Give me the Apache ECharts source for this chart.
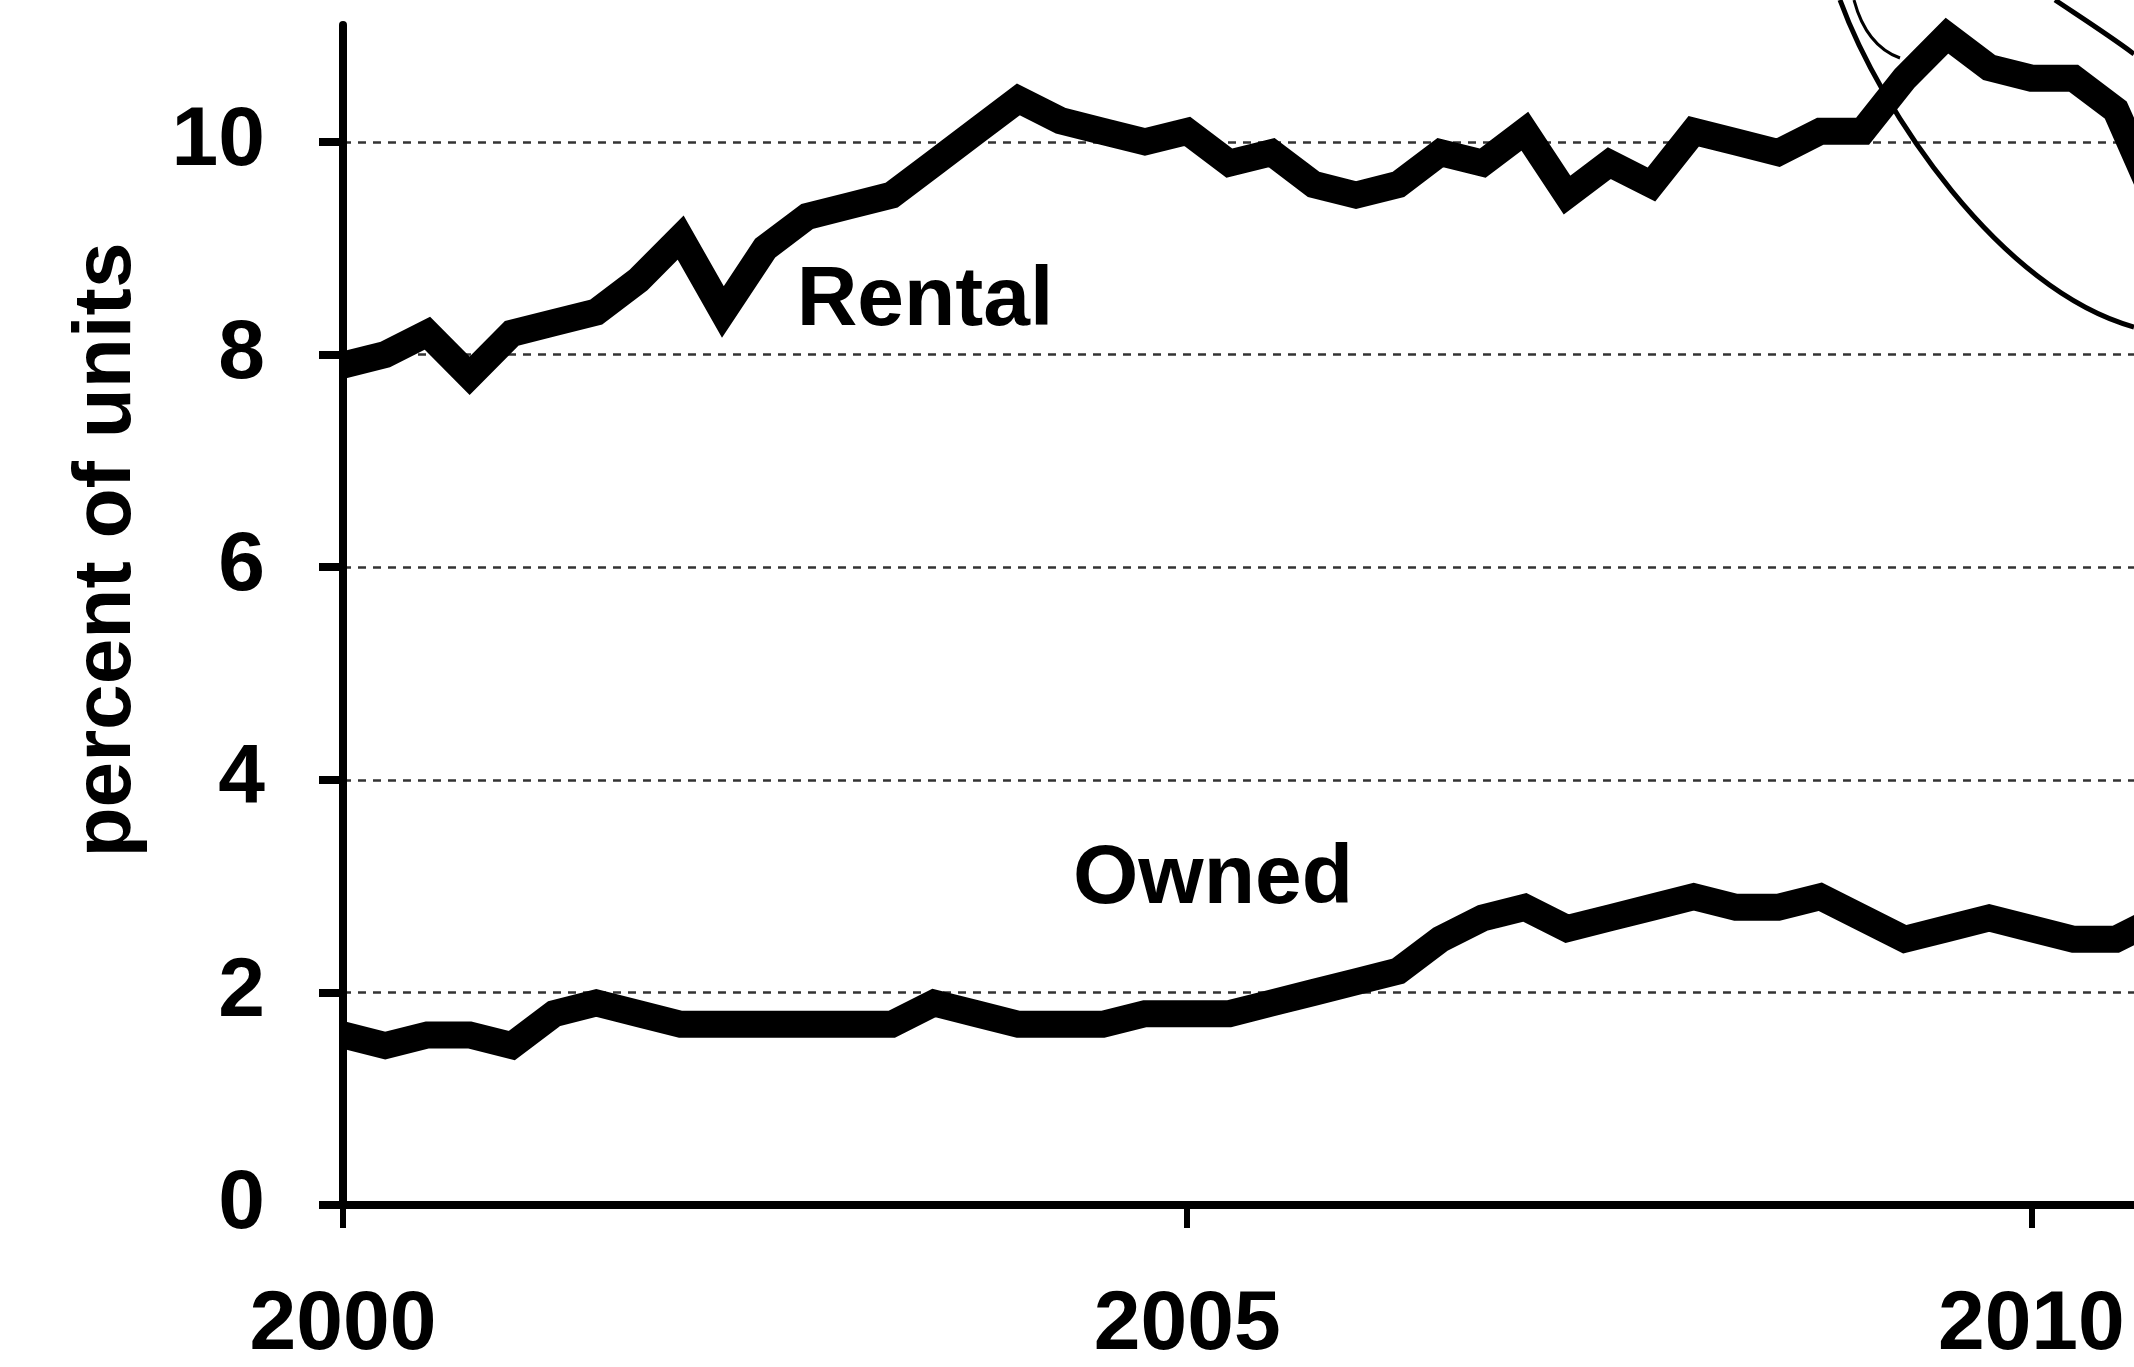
<!DOCTYPE html>
<html>
<head>
<meta charset="utf-8">
<title>Vacancy rates</title>
<script src="https://cdn.jsdelivr.net/npm/echarts@6/dist/echarts.min.js"></script>
<style>
  html, body { margin: 0; padding: 0; background: #fff; }
  #chart { width: 2134px; height: 1367px; }
</style>
</head>
<body>
<div id="chart"></div>
<script>
// quarterly vacancy rates, 2000 Q1 .. 2010 Q4 (last point is past the right edge)
const years = [2000, 2001, 2002, 2003, 2004, 2005, 2006, 2007, 2008, 2009, 2010];
const quarterNames = ['Q1', 'Q2', 'Q3', 'Q4'];

const rental = [
  7.9, 8.0, 8.2, 7.8,
  8.2, 8.3, 8.4, 8.7,
  9.1, 8.4, 9.0, 9.3,
  9.4, 9.5, 9.8, 10.1,
  10.4, 10.2, 10.1, 10.0,
  10.1, 9.8, 9.9, 9.6,
  9.5, 9.6, 9.9, 9.8,
  10.1, 9.5, 9.8, 9.6,
  10.1, 10.0, 9.9, 10.1,
  10.1, 10.6, 11.0, 10.7,
  10.6, 10.6, 10.3, 9.4
];

const owned = [
  1.6, 1.5, 1.6, 1.6,
  1.5, 1.8, 1.9, 1.8,
  1.7, 1.7, 1.7, 1.7,
  1.7, 1.7, 1.9, 1.8,
  1.7, 1.7, 1.7, 1.8,
  1.8, 1.8, 1.9, 2.0,
  2.1, 2.2, 2.5, 2.7,
  2.8, 2.6, 2.7, 2.8,
  2.9, 2.8, 2.8, 2.9,
  2.7, 2.5, 2.6, 2.7,
  2.6, 2.5, 2.5, 2.7
];

const yTicks = [0, 2, 4, 6, 8, 10];
const xLabelYears = ['2000', '2005', '2010'];

const quarters = [];
years.forEach(y => quarterNames.forEach(q => quarters.push(y + ' ' + q)));

const FONT = '"Liberation Sans", Arial, Helvetica, sans-serif';
const isLabelled = (idx, val) => xLabelYears.includes(String(val).slice(0, 4)) && String(val).endsWith('Q1');

const chart = echarts.init(document.getElementById('chart'), null, { renderer: 'canvas' });

chart.setOption({
  animation: false,
  backgroundColor: '#ffffff',
  // plot runs past the right edge, the picture is cropped there
  grid: { left: 343, top: 25, width: 1815, height: 1180, outerBoundsMode: 'none', containLabel: false },
  xAxis: {
    type: 'category',
    data: quarters,
    boundaryGap: false,
    axisLine: { show: true, lineStyle: { color: '#000', width: 8 } },
    axisTick: { show: true, length: 23, interval: isLabelled, lineStyle: { color: '#000', width: 6 } },
    axisLabel: {
      interval: isLabelled,
      margin: 79,
      formatter: v => v.slice(0, 4),
      color: '#000',
      fontFamily: FONT,
      fontWeight: 'bold',
      fontSize: 84
    },
    splitLine: { show: false }
  },
  yAxis: {
    type: 'value',
    min: 0,
    max: 11.1,
    interval: 2,
    name: 'percent of units',
    nameLocation: 'middle',
    nameGap: 195,
    nameRotate: 90,
    nameTextStyle: {
      color: '#000',
      fontFamily: FONT,
      fontWeight: 'bold',
      fontSize: 82,
      padding: [0, 0, 0, 130]
    },
    axisLine: { show: true, lineStyle: { color: '#000', width: 8 } },
    axisTick: { show: true, length: 24, customValues: yTicks, lineStyle: { color: '#000', width: 8 } },
    axisLabel: {
      customValues: yTicks,
      margin: 78,
      color: '#000',
      fontFamily: FONT,
      fontWeight: 'bold',
      fontSize: 84
    },
    splitLine: {
      show: true,
      showMinLine: false,
      lineStyle: { color: '#333', width: 2.5, type: [8, 7] }
    }
  },
  series: [
    {
      name: 'Rental',
      type: 'line',
      data: rental,
      symbol: 'none',
      clip: false,
      lineStyle: { color: '#000', width: 27, join: 'miter', miterLimit: 4, cap: 'butt' },
      z: 3
    },
    {
      name: 'Owned',
      type: 'line',
      data: owned,
      symbol: 'none',
      clip: false,
      lineStyle: { color: '#000', width: 27, join: 'miter', miterLimit: 4, cap: 'butt' },
      z: 3
    }
  ],
  graphic: [
    {
      type: 'text', x: 925, y: 302, z: 10,
      style: {
        text: 'Rental', fill: '#000', font: 'bold 84px ' + FONT,
        textAlign: 'center', textVerticalAlign: 'middle'
      }
    },
    {
      type: 'text', x: 1213, y: 880, z: 10,
      style: {
        text: 'Owned', fill: '#000', font: 'bold 84px ' + FONT,
        textAlign: 'center', textVerticalAlign: 'middle'
      }
    },
    // hand-drawn circle around the 2009 peak
    {
      type: 'bezierCurve', z: 10, silent: true,
      shape: { x1: 1840, y1: 0, cpx1: 1880, cpy1: 110, cpx2: 2000, cpy2: 290, x2: 2134, y2: 327 },
      style: { stroke: '#000', lineWidth: 5, fill: null }
    },
    {
      type: 'bezierCurve', z: 10, silent: true,
      shape: { x1: 2055, y1: 0, cpx1: 2085, cpy1: 20, cpx2: 2110, cpy2: 36, x2: 2134, y2: 54 },
      style: { stroke: '#000', lineWidth: 5, fill: null }
    },
    {
      type: 'bezierCurve', z: 10, silent: true,
      shape: { x1: 1854, y1: 0, cpx1: 1862, cpy1: 30, cpx2: 1878, cpy2: 50, x2: 1900, y2: 58 },
      style: { stroke: '#000', lineWidth: 3, fill: null }
    }
  ]
});
</script>
</body>
</html>
